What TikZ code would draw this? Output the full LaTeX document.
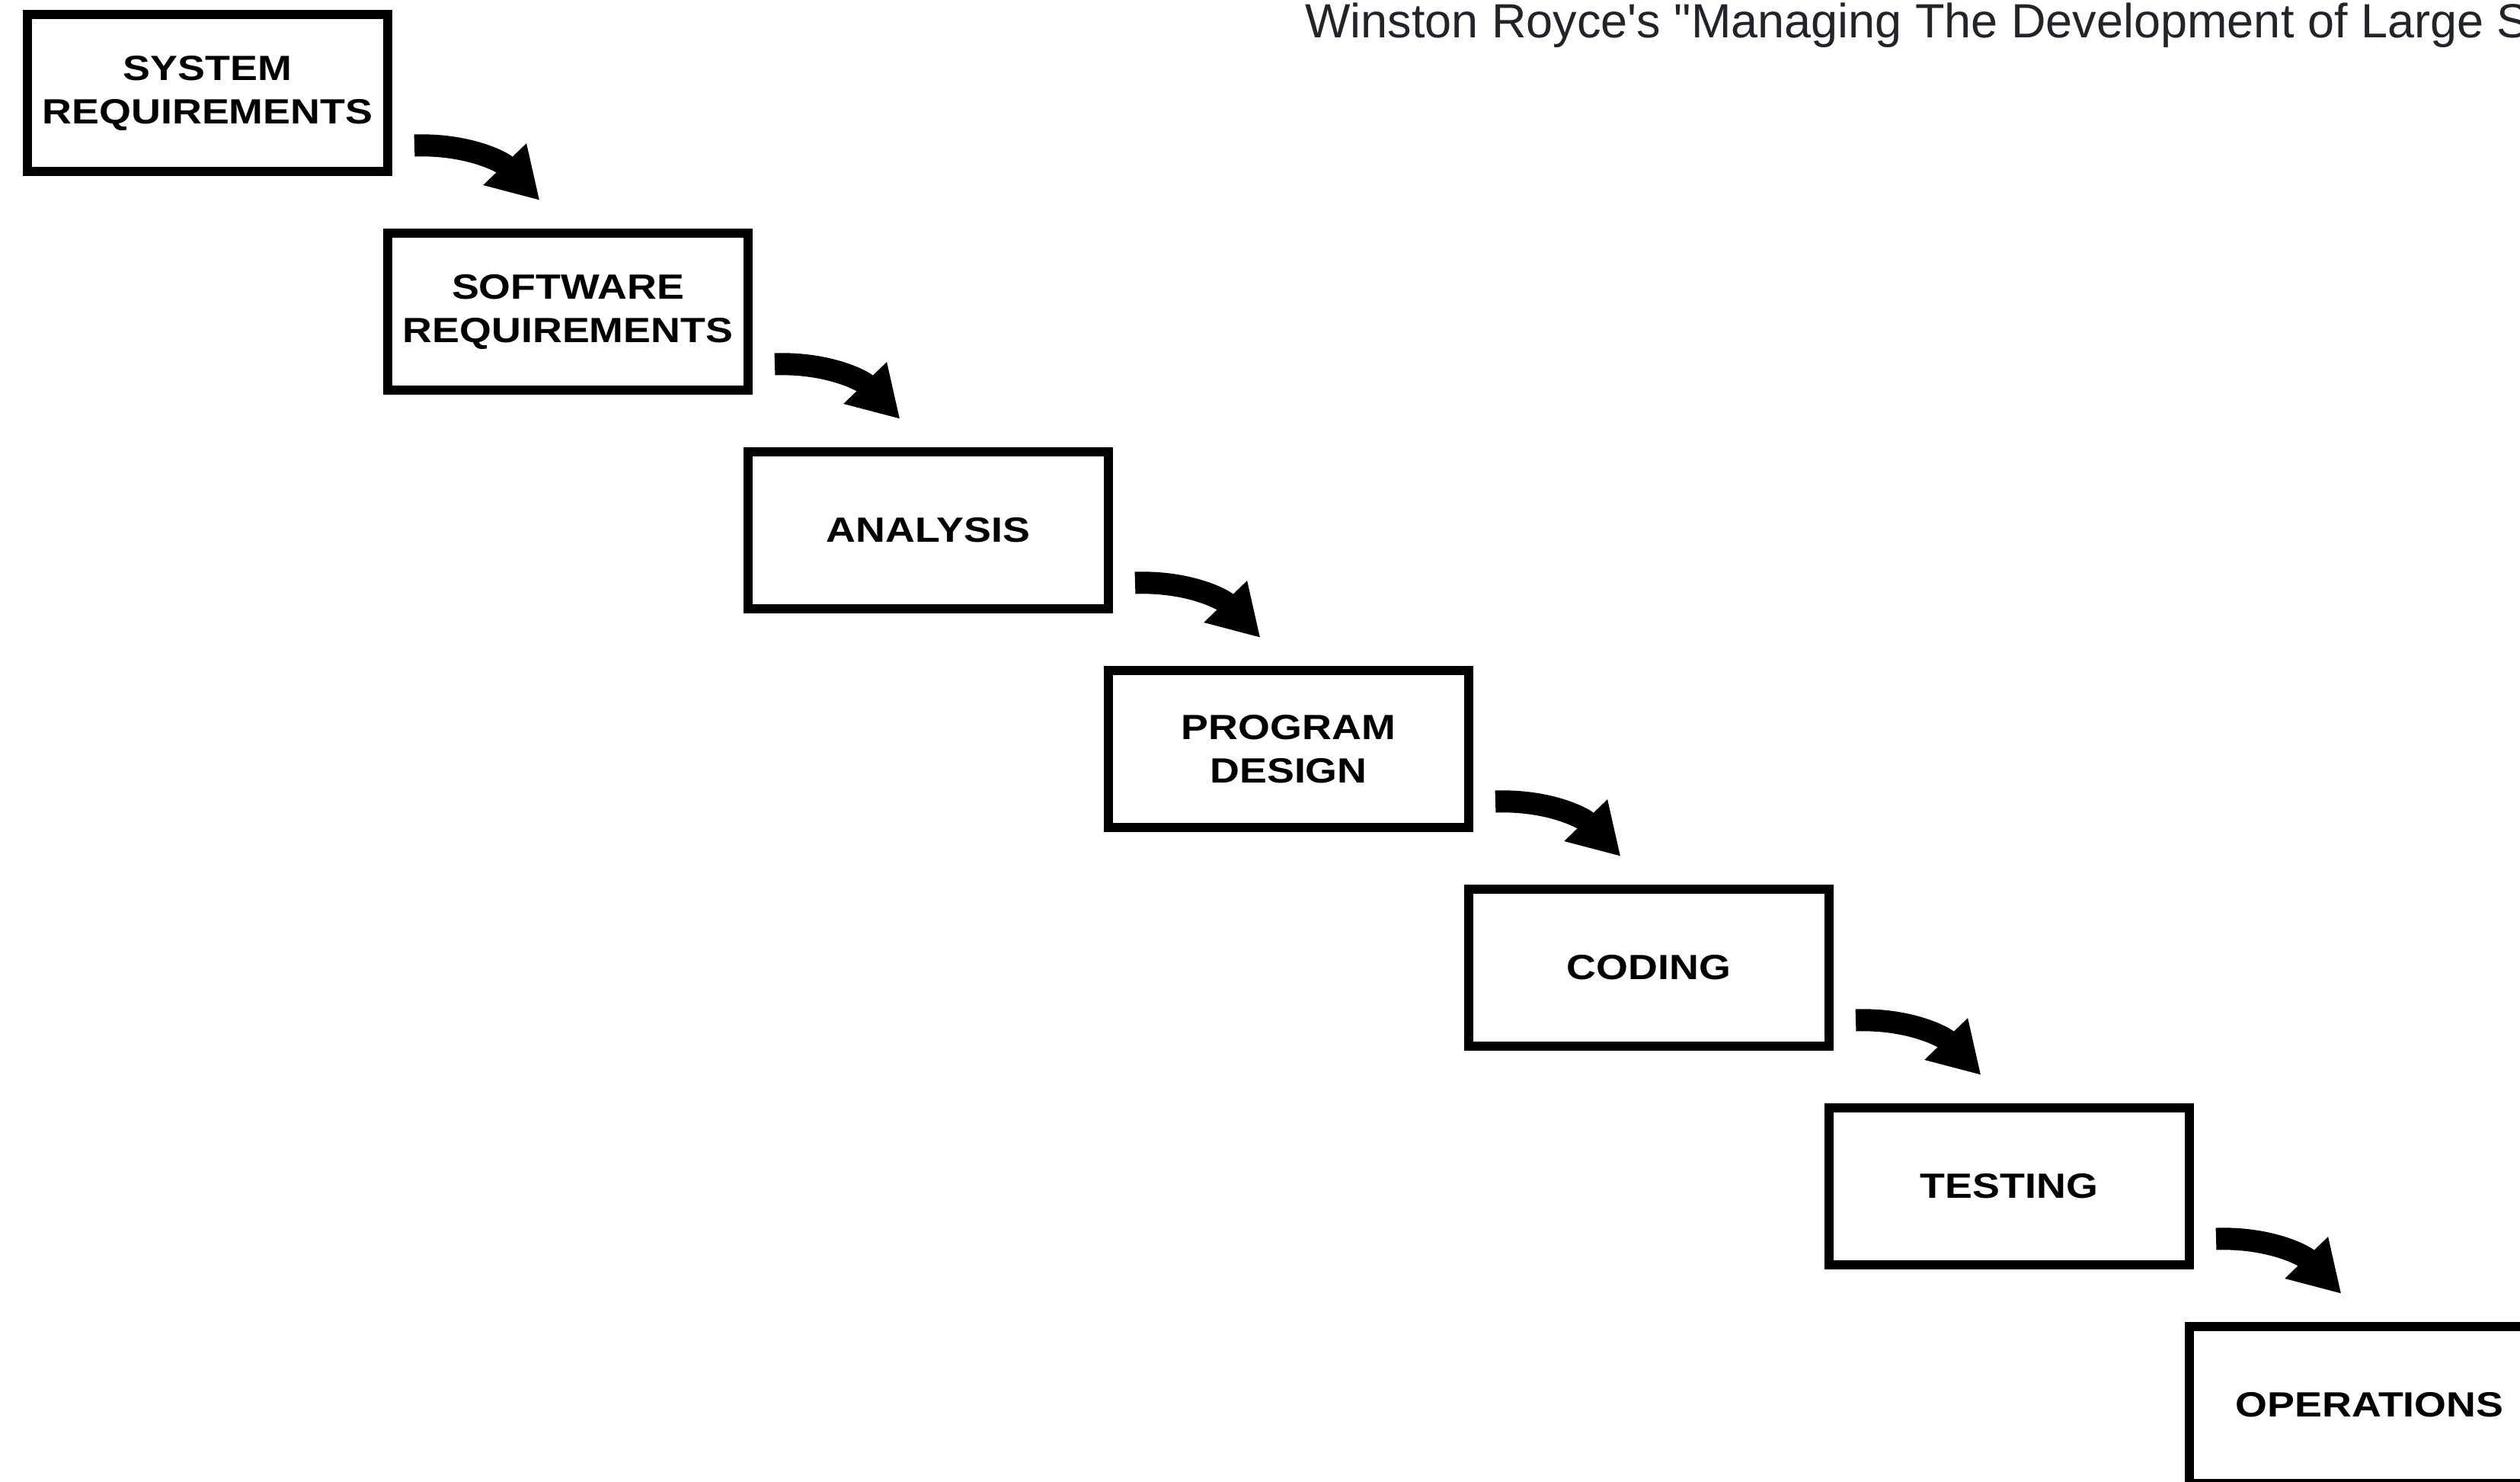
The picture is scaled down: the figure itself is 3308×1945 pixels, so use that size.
\documentclass[tikz,border=0pt]{standalone}
\usepackage{fontspec}
\usetikzlibrary{arrows.meta,calc}
\newfontfamily\titlefont{Liberation Sans}
\newfontfamily\stagefont{Liberation Sans}[FakeStretch=1.17]
\definecolor{titleink}{HTML}{212529}

\tikzset{
  stagebox/.style={draw=black, line width=12pt, fill=white,
    minimum width=473pt, minimum height=206pt, inner sep=0pt,
    align=center, font=\stagefont\bfseries\fontsize{46}{57}\selectfont},
  flowarrow/.style={line width=29pt, black,
    -{Triangle[length=66pt, width=74pt]}}
}

\begin{document}
\begin{tikzpicture}[x=1pt, y=-1pt]
  \useasboundingbox (0,0) rectangle (3308,1945);
  \clip (0,0) rectangle (3308,1945);

  % title line along the top edge
  \node[anchor=base west, inner sep=0pt, text=titleink,
        font=\titlefont\fontsize{63}{75}\selectfont]
    (title) at (1713,50) {Winston Royce's "Managing The Development of Large S};

  % the seven stages, stepping down to the right
  \node[stagebox] (sysreq)  at (272.5,122)  {SYSTEM\\REQUIREMENTS};
  \node[stagebox] (swreq)   at (745.5,409)  {SOFTWARE\\REQUIREMENTS};
  \node[stagebox] (analysis) at (1218.5,696) {ANALYSIS};
  \node[stagebox] (design)  at (1691.5,983) {PROGRAM\\DESIGN};
  \node[stagebox] (coding)  at (2164.5,1270) {CODING};
  \node[stagebox] (testing) at (2637.5,1557) {TESTING};
  \node[stagebox] (ops)     at (3110.5,1844) {OPERATIONS};

  % curved arrows from each stage to the next
  \foreach \a/\b in {sysreq/swreq, swreq/analysis, analysis/design,
                     design/coding, coding/testing, testing/ops}{
    \coordinate (tail-\a) at ($(\a.east)+(29,69)$);
    \coordinate (tip-\a)  at ($(\b.north)+(-37,-37)$);
    \draw[flowarrow] (tail-\a) to[out=2, in=134] (tip-\a);
  }
\end{tikzpicture}
\end{document}
